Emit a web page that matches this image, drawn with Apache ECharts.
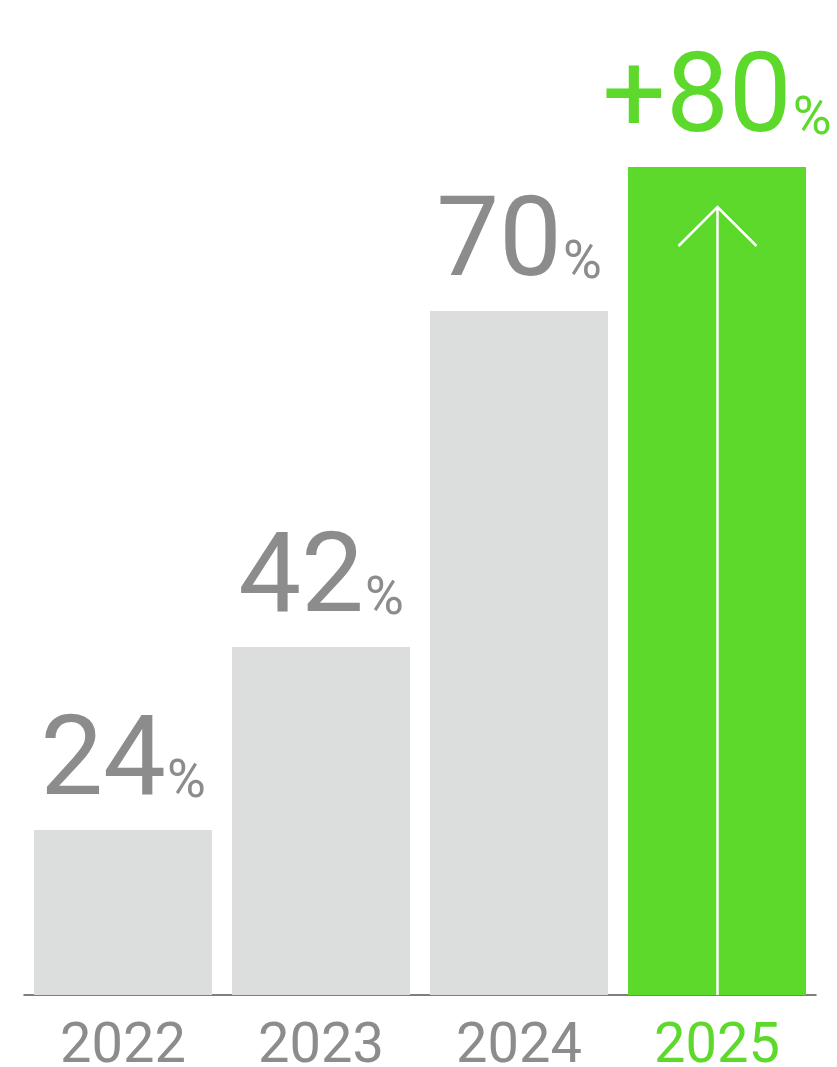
<!DOCTYPE html>
<html>
<head>
<meta charset="utf-8">
<script src="https://cdn.jsdelivr.net/npm/echarts@6/dist/echarts.min.js"></script>
<style>
  html, body { margin: 0; padding: 0; background: #fff; }
  #chart { width: 837px; height: 1067px; }
</style>
</head>
<body>
<div id="chart"></div>
<script>
// categories
const years = ['2022', '2023', '2024', '2025']
// percent labels shown above the bars
const percents = [24, 42, 70, 80]
const prefixes = ['', '', '', '+']
// bar heights as drawn in the picture (not proportional to the labels), px above baseline
const barHeights = [165, 348, 684, 828]
const highlightIndex = 3

const grey = '#8c8c8c'
const green = '#5cd92b'
const barGrey = '#dcdedd'
const font = 'Roboto'

const chart = echarts.init(document.getElementById('chart'))

// percent sign sits on the digits' baseline
const numStyle = color => ({ fontFamily: font, fontWeight: 400, fontSize: 112, color, verticalAlign: 'bottom' })
const pctStyle = color => ({ fontFamily: font, fontWeight: 400, fontSize: 53, color, verticalAlign: 'bottom', padding: [0, 0, 12, 1] })

const option = {
  animation: false,
  grid: {
    left: 24,
    right: 21,
    top: 95,
    bottom: 72,
    outerBoundsMode: 'none'
  },
  xAxis: {
    type: 'category',
    data: years,
    axisLine: {
      show: true,
      lineStyle: { color: '#555555', width: 1.5 }
    },
    axisTick: { show: false },
    axisLabel: {
      margin: 25,
      fontFamily: font,
      fontWeight: 400,
      fontSize: 56,
      color: (value, index) => (index === highlightIndex ? green : grey)
    }
  },
  yAxis: {
    type: 'value',
    min: 0,
    max: 900,
    show: false,
    splitLine: { show: false }
  },
  series: [
    {
      type: 'bar',
      barWidth: 178,
      data: barHeights.map((h, i) => ({
        value: h,
        itemStyle: { color: i === highlightIndex ? green : barGrey }
      })),
      label: {
        show: true,
        position: 'top',
        distance: 8,
        formatter: p => {
          const i = p.dataIndex
          const k = i === highlightIndex ? 'g' : ''
          return `{n${k}|${prefixes[i]}${percents[i]}}{p${k}|%}`
        },
        rich: {
          n: numStyle(grey),
          p: pctStyle(grey),
          ng: numStyle(green),
          pg: pctStyle(green)
        }
      }
    },
    {
      // white arrow inside the highlighted bar
      type: 'custom',
      z: 10,
      silent: true,
      data: [[highlightIndex, barHeights[highlightIndex]]],
      renderItem: (params, api) => {
        const top = api.coord([api.value(0), api.value(1)])
        const base = api.coord([api.value(0), 0])
        const x = top[0] + 0.5
        const tipY = top[1] + 40
        return {
          type: 'group',
          children: [
            {
              type: 'line',
              shape: { x1: x, y1: base[1], x2: x, y2: tipY },
              style: { stroke: '#ffffff', lineWidth: 2.5 }
            },
            {
              type: 'polyline',
              shape: { points: [[x - 39, tipY + 39], [x, tipY], [x + 39, tipY + 39]] },
              style: { stroke: '#ffffff', lineWidth: 2.5, fill: null }
            }
          ]
        }
      }
    }
  ]
}

chart.setOption(option)
</script>
</body>
</html>
